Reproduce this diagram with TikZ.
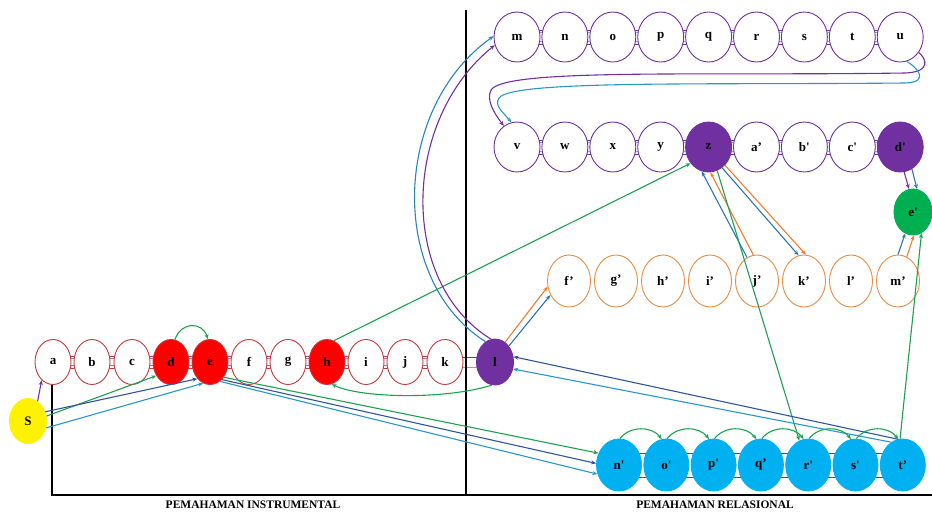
\documentclass[tikz,border=0pt]{standalone}
\usepackage{fontspec}
\setmainfont{Liberation Serif}
\usetikzlibrary{shapes.geometric,arrows.meta,backgrounds}
\definecolor{redline}{RGB}{190,60,60}
\definecolor{redfill}{RGB}{255,0,0}
\definecolor{purp}{RGB}{112,48,160}
\definecolor{orng}{RGB}{230,140,70}
\definecolor{orarr}{RGB}{237,125,49}
\definecolor{bluefill}{RGB}{0,176,240}
\definecolor{greenfill}{RGB}{0,176,80}
\definecolor{grarr}{RGB}{30,160,80}
\definecolor{dkblue}{RGB}{47,85,151}
\definecolor{cyarr}{RGB}{40,150,200}
\definecolor{mdblue}{RGB}{46,116,181}
\definecolor{ltblue}{RGB}{120,180,220}
\definecolor{slate}{RGB}{60,85,115}
\definecolor{pinkl}{RGB}{180,110,170}
\begin{document}
\begin{tikzpicture}[x=1pt,y=-1pt,
  nd/.style={ellipse, inner sep=0pt, font=\bfseries\fontsize{13}{13}\selectfont, line width=0.9pt},
  rednd/.style={nd, draw=redline, fill=white, minimum width=36pt, minimum height=45pt},
  redfull/.style={rednd, fill=redfill},
  purnd/.style={nd, draw=purp, fill=white, minimum width=46pt, minimum height=50pt},
  purfull/.style={purnd, fill=purp},
  ornd/.style={nd, draw=orng, fill=white, minimum width=43pt, minimum height=52pt},
  blnd/.style={nd, draw=bluefill, fill=bluefill, minimum width=45pt, minimum height=52pt},
  arr/.style={-{Stealth[length=5pt,width=4pt]}, line width=1.1pt},
  axis/.style={line width=1.8pt, black},
  caption/.style={font=\bfseries\fontsize{11.5}{12}\selectfont}
]
\useasboundingbox (0,0) rectangle (932,512);

% axes
\coordinate (ax0) at (52,384);
\coordinate (ax1) at (52,495);
\coordinate (ax2) at (932,495);
\coordinate (dv0) at (466,10);
\coordinate (dv1) at (466,495);
\draw[axis] (ax0) -- (ax1) -- (ax2);
\draw[axis] (dv0) -- (dv1);
\node[caption] (capI) at (253,505) {PEMAHAMAN INSTRUMENTAL};
\node[caption] (capR) at (715,505) {PEMAHAMAN RELASIONAL};

% left chain
\node[nd, fill=yellow, draw=yellow, minimum width=37pt, minimum height=45pt] (S) at (28,421) {S};
\foreach \n/\x in {a/53,b/92,c/132,f/249,g/288,i/366,j/405,k/445}
  \node[rednd] (\n) at (\x,362) {\n};
\node[redfull] (d) at (171,362) {d};
\node[redfull] (e) at (210,362) {e};
\node[redfull] (h) at (327,362) {h};
\node[nd, draw=purp, fill=purp, minimum width=37pt, minimum height=46pt] (l) at (495,362) {l};

% top rows
\foreach \n/\lab [count=\i from 0] in {m/m,n/n,o/o,p/p,q/q,r/r,s/s,t/t,u/u}
  \node[purnd] (\n) at ({517+47.9*\i},37) {\lab};
\foreach \n/\lab/\i in {v/v/0,w/w/1,x/x/2,y/y/3,a2/a’/5,b2/b\textquotesingle/6,c2/c\textquotesingle/7}
  \node[purnd] (\n) at ({517+47.9*\i},147) {\lab};
\node[purfull] (z) at ({517+47.9*4},147) {z};
\node[purfull] (d2) at ({517+47.9*8},147) {d\textquotesingle};
\node[nd, draw=greenfill, fill=greenfill, minimum width=38pt, minimum height=46pt] (e2) at (913,212) {e\textquotesingle};

% orange row
\foreach \n/\lab [count=\i from 0] in {f2/f’,g2/g’,h2/h’,i2/i’,j2/j’,k2/k’,l2/l’,m2/m’}
  \node[ornd] (\n) at ({569+47*\i},281) {\lab};

% blue row
\foreach \n/\lab [count=\i from 0] in {n2/n\textquotesingle,o2/o\textquotesingle,p2/p\textquotesingle,q2/q’,r2/r\textquotesingle,s2/s\textquotesingle,t2/t’}
  \node[blnd] (\n) at ({619+47.3*\i},465) {\lab};

% links (behind nodes)
\begin{scope}[on background layer]
  \foreach \p/\q in {a/b,b/c,c/d,d/e,e/f,f/g,g/h,h/i,i/j,j/k} {
    \draw[redline, line width=0.8pt] ([yshift=6pt]\p.center) -- ([yshift=6pt]\q.center);
    \draw[redline, line width=0.8pt] ([yshift=-6pt]\p.center) -- ([yshift=-6pt]\q.center);
    \draw[pinkl, line width=0.7pt] ([yshift=3.5pt]\p.center) -- ([yshift=3.5pt]\q.center);
    \draw[pinkl, line width=0.7pt] ([yshift=-3.5pt]\p.center) -- ([yshift=-3.5pt]\q.center);
  }
  \draw[purp, line width=1pt] ([yshift=5pt]k.center) -- ([yshift=5pt]l.center);
  \draw[orng, line width=1pt] ([yshift=-5pt]k.center) -- ([yshift=-5pt]l.center);
  \foreach \p/\q in {m/n,n/o,o/p,p/q,q/r,r/s,s/t,t/u,v/w,w/x,x/y,y/z,z/a2,a2/b2,b2/c2,c2/d2} {
    \draw[purp, line width=0.8pt] ([yshift=7pt]\p.center) -- ([yshift=7pt]\q.center);
    \draw[purp, line width=0.8pt] ([yshift=-7pt]\p.center) -- ([yshift=-7pt]\q.center);
    \draw[ltblue, line width=0.7pt] ([yshift=4.5pt]\p.center) -- ([yshift=4.5pt]\q.center);
    \draw[ltblue, line width=0.7pt] ([yshift=-4.5pt]\p.center) -- ([yshift=-4.5pt]\q.center);
  }
  \draw[slate, line width=1pt] ([yshift=12pt]n2.center) -- ([yshift=12pt]t2.center);
  \draw[slate, line width=1pt] ([yshift=-12pt]n2.center) -- ([yshift=-12pt]t2.center);
\end{scope}

% connectors from S
\draw[arr, purp] (S.64) -- (a.238);
\draw[arr, grarr] (S.15) -- (d.223);
\draw[arr, dkblue] (S.28) -- (e.233);
\draw[arr, cyarr] (S.-21) -- (e.252);
% d -> e arc
\draw[arr, grarr] (d.80) .. controls +(6,-18) and +(-6,-18) .. (e.95);
% e -> n'
\draw[arr, grarr] (e.-48) -- (n2.150);
\draw[arr, dkblue] (e.-56) -- (n2.176);
\draw[arr, cyarr] (e.-63) -- (n2.203);
% l -> h
\draw[arr, grarr] (l.262) .. controls (445,400) and (360,398) .. (h.282);
% h -> z
\draw[arr, grarr] (h.72) -- (z.222);
% l -> m
\draw[arr, cyarr!70!dkblue] (l.115) .. controls (388,280) and (392,108) .. (m.178);
\draw[arr, purp] (l.100) .. controls (398,282) and (402,120) .. (m.200);
% u -> v
\draw[arr, purp] (u.-40) .. controls (926,58) and (932,72) .. (905,73)
   .. controls (700,76) and (505,68) .. (491,90) .. controls (486,100) and (494,113) .. (v.122);
\draw[arr, cyarr] (u.-75) .. controls (915,66) and (932,82) .. (905,83)
   .. controls (700,85) and (512,80) .. (499,98) .. controls (494,106) and (503,112) .. (v.103);
% l -> f'
\draw[arr, orarr] (l.63) -- (f2.195);
\draw[arr, mdblue] (l.49) -- (f2.217);
% j' -> z
\draw[arr, mdblue] (j2.113) -- (z.254);
\draw[arr, orarr] (j2.98) -- (z.274);
% z -> k'
\draw[arr, mdblue] (z.303) -- (k2.102);
\draw[arr, orarr] (z.312) -- (k2.86);
% z -> r'
\draw[arr, grarr] (z.290) -- (r2.110);
% d' -> e'
\draw[arr, purp] (d2.279) -- (e2.100);
\draw[arr, mdblue] (d2.298) -- (e2.80);
% m' -> e'
\draw[arr, mdblue] (m2.90) -- (e2.250);
\draw[arr, orarr] (m2.70) -- (e2.272);
% t' -> e'
\draw[arr, grarr] (t2.96) -- (e2.292);
% t' -> l
\draw[arr, dkblue] (t2.101) -- (l.16);
\draw[arr, cyarr] (t2.117) -- (l.-21);
% green arcs along blue row
\foreach \p/\q in {n2/o2,o2/p2,p2/q2,q2/r2,r2/s2,s2/t2}
  \draw[arr, grarr] (\p.88) .. controls +(10,-13) and +(-10,-13) .. (\q.100);
\end{tikzpicture}
\end{document}
